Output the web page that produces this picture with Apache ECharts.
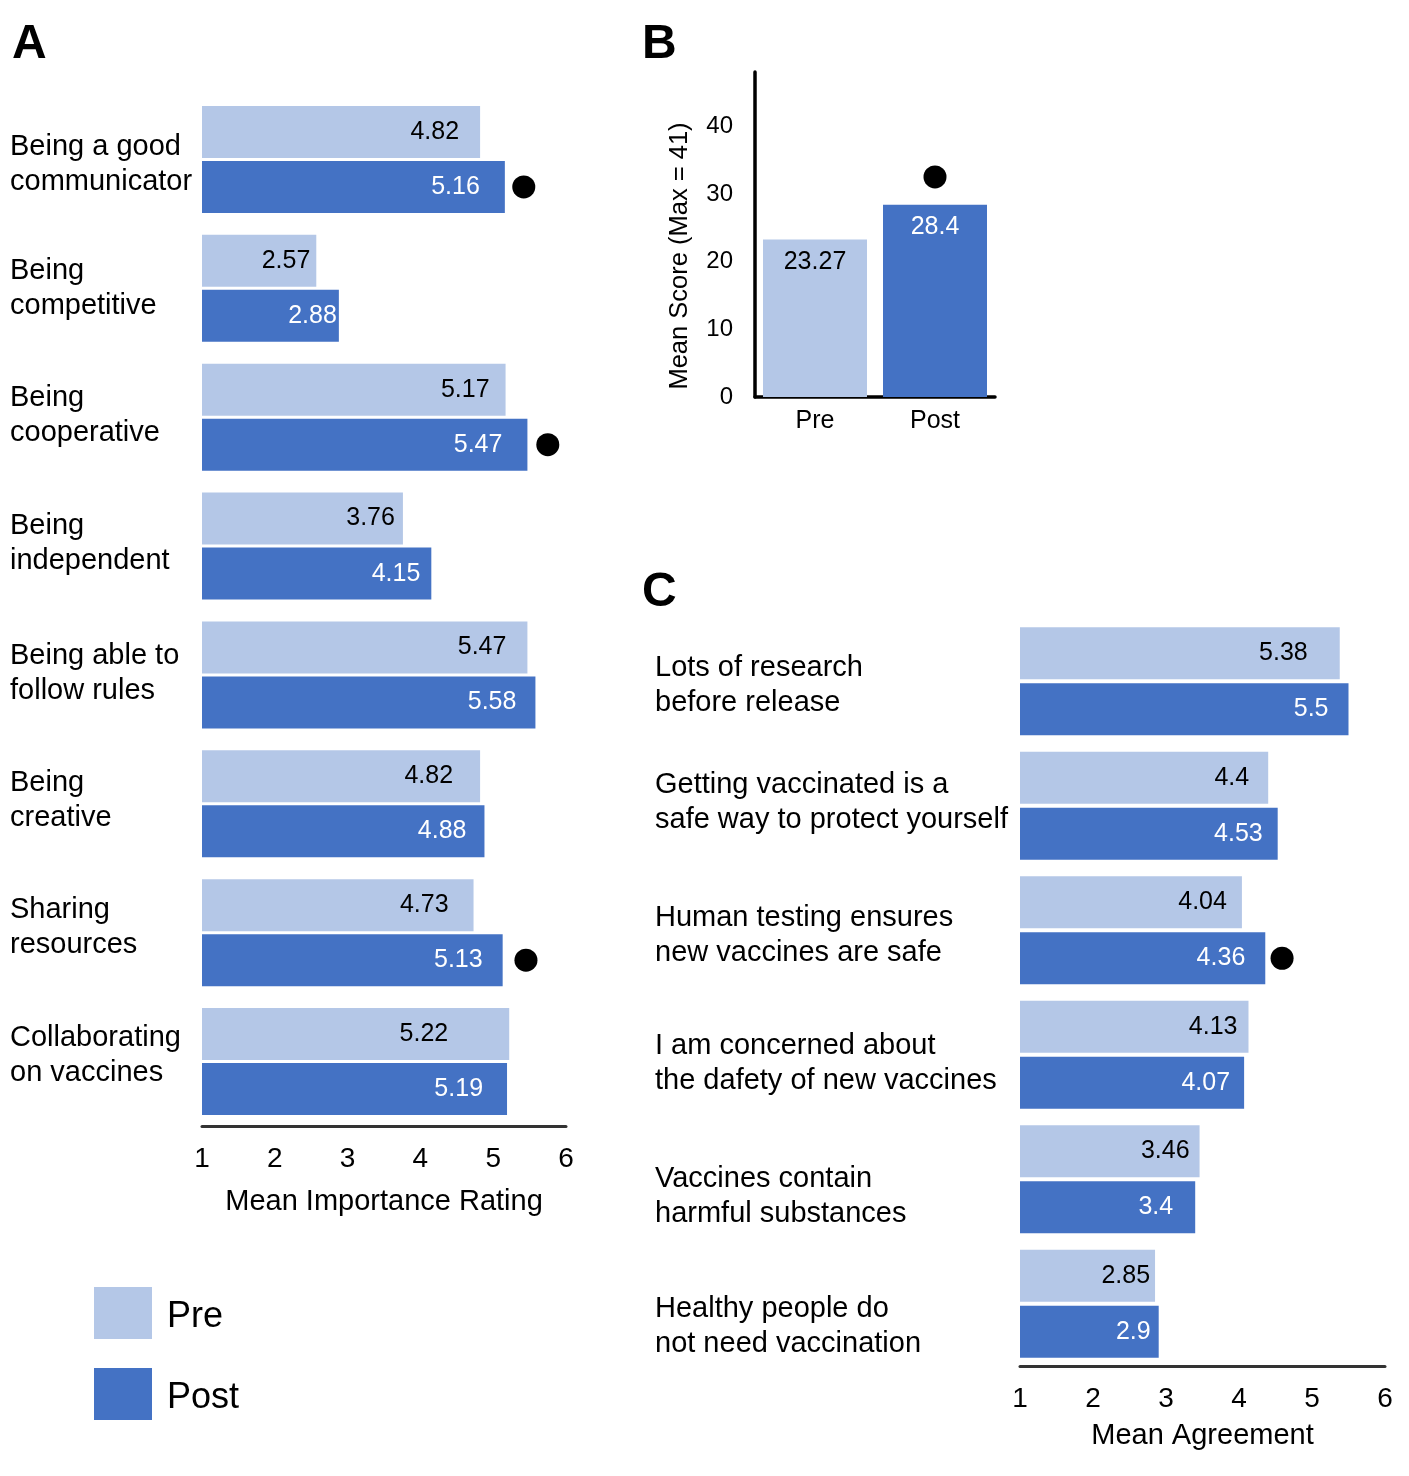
<!DOCTYPE html>
<html><head><meta charset="utf-8">
<script src="https://cdn.jsdelivr.net/npm/echarts@6/dist/echarts.min.js"></script>
<style>html,body{margin:0;padding:0;background:#fff}#main{width:1409px;height:1476px}</style>
</head><body><div id="main"></div>
<script>
// ---- Panel A data ----
const traitCategories = [
  'Being a good\ncommunicator', 'Being\ncompetitive', 'Being\ncooperative', 'Being\nindependent',
  'Being able to\nfollow rules', 'Being\ncreative', 'Sharing\nresources', 'Collaborating\non vaccines'
];
const traitPre  = [4.82, 2.57, 5.17, 3.76, 5.47, 4.82, 4.73, 5.22];
const traitPost = [5.16, 2.88, 5.47, 4.15, 5.58, 4.88, 5.13, 5.19];
const traitSigDots = [[5.42, 'Being a good\ncommunicator'], [5.75, 'Being\ncooperative'], [5.45, 'Sharing\nresources']];
const ratingTicks = [1, 2, 3, 4, 5, 6];

// ---- Panel B data ----
const scoreCategories = ['Pre', 'Post'];
const scoreValues = [23.27, 28.4];
const scoreSigDots = [['Post', 32.5]];

// ---- Panel C data ----
const vaccineCategories = [
  'Lots of research\nbefore release', 'Getting vaccinated is a\nsafe way to protect yourself',
  'Human testing ensures\nnew vaccines are safe', 'I am concerned about\nthe dafety of new vaccines',
  'Vaccines contain\nharmful substances', 'Healthy people do\nnot need vaccination'
];
const vaccinePre  = [5.38, 4.4, 4.04, 4.13, 3.46, 2.85];
const vaccinePost = [5.5, 4.53, 4.36, 4.07, 3.4, 2.9];
const vaccineSigDots = [[4.59, 'Human testing ensures\nnew vaccines are safe']];

// ---- styles: vertical nudges (px) of category labels, and inset (px) of value labels, as in the original ----
const traitLabelNudge = [5, 0, -1.5, -3, -1, -3, -5, -6];
const vaccineLabelNudge = [4, -3, 5, 9, 17, 23];
const traitPreInset  = [21, 6, 16, 8, 21, 27, 25, 61];
const traitPostInset = [25, 2, 25, 11, 19, 18, 20, 24];
const vaccinePreInset  = [32, 19, 15, 11, 10, 5];
const vaccinePostInset = [20, 15, 20, 14, 22, 8];

const FONT = 'Liberation Sans, Arial, Helvetica, sans-serif';
const PRE = '#B4C7E7', POST = '#4472C4';
const LABEL_SIZE = 29, LINE_H = 35;

const chart = echarts.init(document.getElementById('main'));

function ratingAxis(gridIndex, name, nameGap) {
  return {
    gridIndex, type: 'value', min: 1, max: 6, interval: 1, name, nameLocation: 'middle', nameGap,
    nameTextStyle: { fontFamily: FONT, fontSize: 29, color: '#000' },
    axisLine: { show: true, lineStyle: { color: '#333', width: 3 } },
    axisTick: { show: false }, splitLine: { show: false },
    axisLabel: { fontFamily: FONT, fontSize: 28, color: '#000', margin: 19,
      formatter: v => ratingTicks.includes(v) ? String(v) : '' }
  };
}
function catAxis(gridIndex, data, margin, nudges) {
  const rich = {};
  nudges.forEach((s, i) => {
    const base = { fontFamily: FONT, fontSize: LABEL_SIZE, color: '#000', verticalAlign: 'bottom', align: 'left' };
    rich['t' + i] = Object.assign({ lineHeight: LABEL_SIZE + 2 * s }, base);
    rich['b' + i] = Object.assign({ lineHeight: LINE_H }, base);
  });
  return {
    gridIndex, type: 'category', data, inverse: true,
    axisLine: { show: false }, axisTick: { show: false },
    axisLabel: {
      fontFamily: FONT, fontSize: LABEL_SIZE, color: '#000', align: 'left', margin,
      formatter: (value, index) => {
        const lines = value.split('\n');
        return '{t' + index + '|' + lines[0] + '}\n{b' + index + '|' + lines[1] + '}';
      },
      rich
    }
  };
}
function barSeries(name, xi, yi, values, insets, color, labelColor, barGap) {
  return {
    name, type: 'bar', xAxisIndex: xi, yAxisIndex: yi, barWidth: 52, barGap,
    data: values.map((v, i) => ({ value: v, label: { distance: insets[i] } })),
    itemStyle: { color }, clip: true, silent: true,
    label: { show: true, position: 'insideRight', distance: 21, color: labelColor,
      fontFamily: FONT, fontSize: 25 }
  };
}
function dotSeries(xi, yi, data, offset) {
  return { name: 'sig', type: 'scatter', xAxisIndex: xi, yAxisIndex: yi, data,
    symbolSize: 23, symbolOffset: offset, itemStyle: { color: '#000', opacity: 1 }, silent: true, z: 5 };
}

chart.setOption({
  animation: false,
  backgroundColor: '#fff',
  textStyle: { fontFamily: FONT },
  title: [
    { text: 'A', left: 12, top: 21, padding: 0, textStyle: { fontFamily: FONT, fontSize: 48, fontWeight: 'bold', color: '#000' } },
    { text: 'B', left: 642, top: 21, padding: 0, textStyle: { fontFamily: FONT, fontSize: 48, fontWeight: 'bold', color: '#000' } },
    { text: 'C', left: 642, top: 569, padding: 0, textStyle: { fontFamily: FONT, fontSize: 48, fontWeight: 'bold', color: '#000' } }
  ],
  legend: {
    data: ['Pre', 'Post'], orient: 'vertical', left: 94, top: 1287, padding: 0,
    itemWidth: 58, itemHeight: 52, itemGap: 29,
    icon: 'rect', selectedMode: false,
    formatter: name => '{p|' + name + '}',
    textStyle: { fontFamily: FONT, fontSize: 36, color: '#000', padding: [0, 0, 0, 10],
      rich: { p: { fontFamily: FONT, fontSize: 36, color: '#000', padding: [8, 0, 0, 0] } } }
  },
  grid: [
    { left: 202, top: 95, width: 364, height: 1031 },
    { left: 755, top: 72, width: 240, height: 325 },
    { left: 1020, top: 619, width: 365, height: 747 }
  ],
  xAxis: [
    ratingAxis(0, 'Mean Importance Rating', 61),
    { gridIndex: 1, type: 'category', data: scoreCategories,
      axisLine: { show: true, lineStyle: { color: '#000', width: 3.5 } }, axisTick: { show: false },
      axisLabel: { fontFamily: FONT, fontSize: 25, color: '#000', margin: 12 } },
    ratingAxis(2, 'Mean Agreement', 55)
  ],
  yAxis: [
    catAxis(0, traitCategories, 192, traitLabelNudge),
    { gridIndex: 1, type: 'value', min: 0, max: 48, interval: 10,
      name: 'Mean Score (Max = 41)', nameLocation: 'middle', nameGap: 62,
      nameTextStyle: { fontFamily: FONT, fontSize: 25.5, color: '#000', padding: [0, 43, 0, 0] },
      axisLine: { show: true, lineStyle: { color: '#000', width: 3.5 } }, axisTick: { show: false },
      splitLine: { show: false },
      axisLabel: { fontFamily: FONT, fontSize: 24, color: '#000', margin: 22, showMaxLabel: false } },
    catAxis(2, vaccineCategories, 365, vaccineLabelNudge)
  ],
  series: [
    barSeries('Pre', 0, 0, traitPre, traitPreInset, PRE, '#000', '6%'),
    barSeries('Post', 0, 0, traitPost, traitPostInset, POST, '#fff', '6%'),
    dotSeries(0, 0, traitSigDots, [0, 27.5]),
    {
      name: 'Mean Score', type: 'bar', xAxisIndex: 1, yAxisIndex: 1, barWidth: 104, silent: true,
      data: scoreValues.map((v, i) => ({ value: v, itemStyle: { color: i === 0 ? PRE : POST },
        label: { color: i === 0 ? '#000' : '#fff' } })),
      label: { show: true, position: 'insideTop', distance: 10, fontFamily: FONT, fontSize: 25 }
    },
    dotSeries(1, 1, scoreSigDots, [0, 0]),
    barSeries('Pre', 2, 2, vaccinePre, vaccinePreInset, PRE, '#000', '8%'),
    barSeries('Post', 2, 2, vaccinePost, vaccinePostInset, POST, '#fff', '8%'),
    dotSeries(2, 2, vaccineSigDots, [0, 28])
  ]
});
</script></body></html>
